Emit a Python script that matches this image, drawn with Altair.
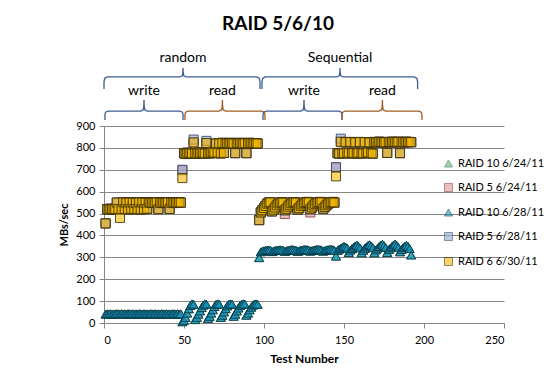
import altair as alt
import pandas as pd

# ---------------- data ----------------
series_names = ["RAID 10 6/24/11", "RAID 5 6/24/11", "RAID 10 6/28/11",
                "RAID 5 6/28/11", "RAID 6 6/30/11"]
series_shapes = ["triangle-up", "square", "triangle-up", "square", "square"]
series_fill = ["#5DB37E", "#D99694", "#1598C4", "#8FA7D0", "#F5B800"]
series_stroke = ["#2E6B44", "#8B3A3A", "#083848", "#34476E", "#3F3200"]

# test numbers of the four groups (random write, random read, seq write, seq read)
tests_rw = list(range(1, 49))
tests_rr = list(range(49, 97))
tests_sw = list(range(97, 145))
tests_sr = list(range(145, 193))

# RAID 10 6/28/11 (triangles)
r10_0628_rw = [40, 42, 41, 43, 40, 42, 41, 43, 42, 40, 43, 41, 42, 40, 43, 42,
               41, 43, 40, 42, 41, 43, 42, 40, 43, 41, 42, 40, 43, 42, 41, 43,
               40, 42, 41, 43, 42, 40, 43, 41, 42, 40, 43, 42, 41, 43, 40, 42]
r10_0628_rr = [5, 12, 25, 45, 65, 80, 88, 85, 15, 25, 40, 55, 70, 82, 88, 86,
               20, 30, 45, 60, 75, 85, 88, 86, 25, 35, 50, 65, 78, 86, 88, 86,
               30, 40, 55, 68, 80, 86, 88, 87, 35, 45, 60, 72, 82, 87, 88, 85]
r10_0628_sw = [298, 325, 328, 330, 332, 333, 334, 333, 326, 329, 331, 333, 334, 335, 334, 332,
               327, 330, 332, 334, 335, 336, 334, 332, 327, 330, 333, 334, 336, 336, 335, 333,
               328, 331, 333, 335, 336, 337, 335, 333, 328, 331, 334, 335, 337, 337, 335, 332]
r10_0628_sr = [305, 332, 338, 342, 346, 350, 347, 342, 322, 333, 340, 346, 352, 356, 350, 343,
               320, 332, 341, 348, 354, 358, 352, 344, 320, 334, 342, 349, 356, 360, 353, 345,
               322, 335, 343, 350, 357, 361, 354, 346, 325, 336, 344, 350, 355, 350, 340, 310]

# RAID 10 6/24/11 (triangles, hidden under the 6/28 run)
r10_0624_rw = [41, 42, 41, 42, 40, 42, 41, 42, 42, 41, 43, 41, 42, 41, 42, 42,
               41, 42, 41, 42, 41, 42, 42, 41, 42, 41, 42, 41, 42, 42, 41, 42,
               41, 42, 41, 42, 42, 41, 42, 41, 42, 41, 42, 42, 41, 42, 41, 42]
r10_0624_rr = [6, 12, 26, 45, 64, 80, 87, 85, 16, 25, 41, 55, 70, 81, 87, 86,
               21, 30, 45, 61, 75, 84, 87, 86, 26, 35, 51, 65, 78, 85, 87, 86,
               31, 40, 55, 69, 80, 85, 87, 86, 36, 45, 61, 72, 81, 86, 87, 85]
r10_0624_sw = [300, 325, 328, 330, 331, 333, 333, 333, 326, 329, 331, 332, 334, 334, 334, 332,
               327, 330, 332, 333, 335, 335, 334, 332, 327, 330, 332, 334, 335, 336, 335, 333,
               328, 331, 333, 334, 336, 336, 335, 333, 328, 331, 333, 335, 336, 336, 335, 332]
r10_0624_sr = [307, 332, 337, 342, 346, 349, 347, 342, 322, 333, 340, 346, 351, 355, 350, 343,
               321, 332, 341, 348, 353, 357, 352, 344, 321, 334, 342, 349, 355, 359, 353, 345,
               322, 335, 343, 350, 356, 360, 354, 346, 325, 336, 344, 350, 354, 350, 340, 312]

# RAID 6 6/30/11 (squares, drawn on top)
r6_0630_rw = [455, 520, 518, 522, 519, 521, 520, 550, 520, 480, 520, 552, 521, 549, 519, 551,
              522, 550, 520, 548, 521, 552, 519, 550, 520, 549, 522, 551, 550, 548, 551, 549,
              552, 520, 550, 548, 551, 550, 549, 552, 521, 550, 548, 551, 550, 549, 552, 550]
r6_0630_rr = [662, 776, 772, 778, 775, 777, 774, 825, 776, 773, 778, 775, 780, 776, 774, 822,
              777, 775, 779, 782, 776, 820, 778, 821, 775, 823, 777, 820, 822, 819, 823, 821,
              820, 776, 822, 820, 823, 821, 819, 822, 776, 820, 823, 821, 820, 822, 821, 820]
r6_0630_sw = [470, 505, 515, 525, 535, 545, 550, 552, 510, 518, 528, 538, 546, 550, 552, 550,
              515, 522, 532, 540, 547, 551, 552, 550, 518, 525, 535, 542, 548, 551, 553, 551,
              520, 528, 537, 544, 549, 552, 553, 551, 522, 530, 538, 545, 550, 552, 553, 550]
r6_0630_sr = [670, 776, 774, 828, 777, 775, 826, 778, 776, 827, 775, 777, 825, 774, 778, 827,
              776, 775, 826, 777, 779, 825, 776, 774, 827, 826, 825, 828, 826, 827, 825, 826,
              777, 827, 826, 828, 825, 827, 826, 828, 776, 826, 827, 825, 828, 826, 827, 826]

# RAID 5 6/28/11 (squares, mostly under RAID 6)
r5_0628_rw = [455, 520, 518, 522, 519, 521, 520, 550, 520, 520, 520, 552, 521, 549, 519, 551,
              522, 550, 520, 548, 521, 552, 519, 550, 520, 549, 522, 551, 550, 548, 551, 549,
              552, 520, 550, 548, 551, 550, 549, 552, 521, 550, 548, 551, 550, 549, 552, 550]
r5_0628_rr = [700, 776, 772, 778, 775, 777, 774, 838, 776, 773, 778, 775, 780, 776, 774, 832,
              777, 775, 779, 782, 776, 820, 778, 821, 775, 823, 777, 820, 822, 819, 823, 821,
              820, 776, 822, 820, 823, 821, 819, 822, 776, 820, 823, 821, 820, 822, 821, 820]
r5_0628_sw = [470, 505, 515, 525, 535, 545, 550, 552, 510, 518, 528, 538, 546, 550, 552, 550,
              515, 522, 532, 540, 547, 551, 552, 550, 518, 525, 535, 542, 548, 551, 553, 551,
              520, 528, 537, 544, 549, 552, 553, 551, 522, 530, 538, 545, 550, 552, 553, 550]
r5_0628_sr = [712, 776, 774, 842, 777, 775, 826, 778, 776, 827, 775, 777, 825, 774, 778, 827,
              776, 775, 826, 777, 779, 825, 776, 774, 827, 826, 825, 828, 826, 827, 825, 826,
              777, 827, 826, 828, 825, 827, 826, 828, 776, 826, 827, 825, 828, 826, 827, 826]

# RAID 5 6/24/11 (squares, bottom of the square stack)
r5_0624_rw = [455, 520, 518, 522, 519, 521, 520, 550, 520, 520, 520, 552, 521, 549, 519, 551,
              522, 550, 520, 548, 521, 552, 519, 550, 520, 549, 522, 551, 550, 548, 551, 549,
              552, 520, 550, 548, 551, 550, 549, 552, 521, 550, 548, 551, 550, 549, 552, 550]
r5_0624_rr = [698, 776, 772, 778, 775, 777, 774, 825, 776, 773, 778, 775, 780, 776, 774, 822,
              777, 775, 779, 782, 776, 820, 778, 821, 775, 823, 777, 820, 822, 819, 823, 821,
              820, 776, 822, 820, 823, 821, 819, 822, 776, 820, 823, 821, 820, 822, 821, 820]
r5_0624_sw = [470, 505, 515, 525, 535, 545, 550, 552, 510, 518, 528, 538, 546, 550, 552, 550,
              498, 522, 532, 540, 547, 551, 552, 550, 518, 525, 535, 542, 548, 551, 553, 551,
              505, 528, 537, 544, 549, 552, 553, 551, 522, 530, 538, 545, 550, 552, 553, 550]
r5_0624_sr = [710, 776, 774, 828, 777, 775, 826, 778, 776, 827, 775, 777, 825, 774, 778, 827,
              776, 775, 826, 777, 779, 825, 776, 774, 827, 826, 825, 828, 826, 827, 825, 826,
              777, 827, 826, 828, 825, 827, 826, 828, 776, 826, 827, 825, 828, 826, 827, 826]

# brace annotations: (label, start, tip, end) in test numbers
brace_top = [("random", 0, 49.4, 97.5), ("Sequential", 98.75, 147.5, 196)]
brace_write = [("write", 0.6, 25, 49.4), ("write", 99.4, 125, 148.75)]
brace_read = [("read", 50.6, 74, 100.6), ("read", 148.75, 174, 198.75)]
# brace levels in MBs/sec units (above the 900 top of the axis)
top_levels = (1069, 1124, 1165, 1210)     # ends, bar, tip, label
sub_levels = (927, 968, 1019, 1060)

# ---------------- tables ----------------
series_data = [
    (r10_0624_rw, r10_0624_rr, r10_0624_sw, r10_0624_sr),
    (r5_0624_rw, r5_0624_rr, r5_0624_sw, r5_0624_sr),
    (r10_0628_rw, r10_0628_rr, r10_0628_sw, r10_0628_sr),
    (r5_0628_rw, r5_0628_rr, r5_0628_sw, r5_0628_sr),
    (r6_0630_rw, r6_0630_rr, r6_0630_sw, r6_0630_sr),
]
rows = []
order = 0
for name, shape, groups in zip(series_names, series_shapes, series_data):
    for tests, vals in zip((tests_rw, tests_rr, tests_sw, tests_sr), groups):
        for t, v in zip(tests, vals):
            rows.append({"series": name, "kind": shape, "test": t, "mbs": v, "o": order})
            order += 1
df = pd.DataFrame(rows)


def brace_path(bid, x0, xc, x1, lv):
    ye, yb, yt, _ = lv
    h = yb - ye
    t = yt - yb
    pts = [(x0, ye), (x0, yb - 0.4 * h), (x0 + 0.4, yb - 0.12 * h), (x0 + 2, yb),
           (xc - 2, yb), (xc - 0.5, yb + 0.12 * t), (xc - 0.1, yb + 0.5 * t), (xc, yt),
           (xc + 0.1, yb + 0.5 * t), (xc + 0.5, yb + 0.12 * t), (xc + 2, yb),
           (x1 - 2, yb), (x1 - 0.4, yb - 0.12 * h), (x1, yb - 0.4 * h), (x1, ye)]
    return [{"bid": bid, "i": i, "test": p[0], "mbs": p[1]} for i, p in enumerate(pts)]


blue_rows, brown_rows, label_rows = [], [], []
for k, (lab, a, c, b) in enumerate(brace_top):
    blue_rows += brace_path(f"t{k}", a, c, b, top_levels)
    label_rows.append({"label": lab, "test": c, "mbs": top_levels[3]})
for k, (lab, a, c, b) in enumerate(brace_write):
    blue_rows += brace_path(f"w{k}", a, c, b, sub_levels)
    label_rows.append({"label": lab, "test": c, "mbs": sub_levels[3]})
for k, (lab, a, c, b) in enumerate(brace_read):
    brown_rows += brace_path(f"r{k}", a, c, b, sub_levels)
    label_rows.append({"label": lab, "test": c, "mbs": sub_levels[3]})

# ---------------- chart ----------------
FONT = "Lato"
xscale = alt.Scale(domain=[0, 250], nice=False, zero=False)
yscale = alt.Scale(domain=[0, 900], nice=False)

x_axis = alt.Axis(
    values=[0, 50, 100, 150, 200, 250], title="Test Number", grid=False,
    tickSize=5, labelPadding=6, titlePadding=8, domainColor="#868686",
    tickColor="#868686", labelColor="#000000", labelFontSize=11, labelFont=FONT,
    labelOverlap=False, titleFont=FONT, titleFontSize=12, titleFontWeight="bold",
    titleColor="#000000")
y_axis = alt.Axis(
    values=[0, 100, 200, 300, 400, 500, 600, 700, 800, 900], title="MBs/sec", grid=True,
    gridColor="#868686", gridWidth=1, tickSize=5, labelPadding=4, titlePadding=6,
    domainColor="#868686", tickColor="#868686", labelColor="#000000", labelFontSize=11,
    labelFont=FONT, labelOverlap=False, titleFont=FONT, titleFontSize=11,
    titleFontWeight="bold", titleColor="#000000")


def xe():
    return alt.X("test:Q", scale=xscale, axis=x_axis)


def ye():
    return alt.Y("mbs:Q", scale=yscale, axis=y_axis)


legend = alt.Legend(orient="none", legendX=339, legendY=32, title=None,
                    labelFont=FONT, labelFontSize=11, labelColor="#000000",
                    symbolSize=64, rowPadding=12, symbolOpacity=0.6,
                    symbolStrokeWidth=1, labelOffset=4)


def point_layer(kind, fill_op):
    return alt.Chart(df).transform_filter(alt.datum.kind == kind).mark_point(
        filled=True, size=82, fillOpacity=fill_op, strokeOpacity=0.85, strokeWidth=1).encode(
        x=xe(), y=ye(),
        fill=alt.Fill("series:N", scale=alt.Scale(domain=series_names, range=series_fill), legend=legend),
        stroke=alt.Stroke("series:N", scale=alt.Scale(domain=series_names, range=series_stroke), legend=legend),
        shape=alt.Shape("series:N", scale=alt.Scale(domain=series_names, range=series_shapes), legend=legend),
        order=alt.Order("o:Q"),
    )


tri = point_layer("triangle-up", 0.7)
sq = point_layer("square", 0.6)

blue = alt.Chart(pd.DataFrame(blue_rows)).mark_line(color="#3D5E92", strokeWidth=1.3).encode(
    x=xe(), y=ye(), detail="bid:N", order="i:Q")
brown = alt.Chart(pd.DataFrame(brown_rows)).mark_line(color="#A25E22", strokeWidth=1.3).encode(
    x=xe(), y=ye(), detail="bid:N", order="i:Q")
labels = alt.Chart(pd.DataFrame(label_rows)).mark_text(
    font=FONT, fontSize=14, color="#000000", baseline="middle", align="center").encode(
    x=xe(), y=ye(), text="label:N")

chart = alt.layer(blue, brown, labels, tri, sq).properties(
    width=400, height=197,
    autosize=alt.AutoSizeParams(type="none"),
    padding={"left": 104, "top": 126, "right": 55, "bottom": 53},
    title=alt.TitleParams("RAID 5/6/10", font=FONT, fontSize=19, fontWeight="bold",
                          color="#000000", anchor="middle", dx=-26, offset=17),
    background="#ffffff",
).configure_view(stroke=None)

chart.save("out.html", embed_options={"renderer": "svg", "actions": False})
